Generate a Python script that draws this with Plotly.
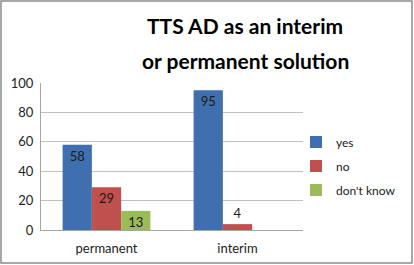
import plotly.graph_objects as go

categories = ["permanent", "interim"]
series_names = ["yes", "no", "don't know"]
yes_vals = [58, 95]
no_vals = [29, 4]
dk_vals = [13, None]
colors = ["#3F6FAE", "#C0504D", "#9BBB59"]

W, H = 414, 265
L, R, T, B = 41, 111, 83, 35

fig = go.Figure()
for name, vals, col in zip(series_names, [yes_vals, no_vals, dk_vals], colors):
    fig.add_trace(go.Bar(
        x=categories, y=vals, name=name, legendgroup=name,
        marker=dict(color=col, line=dict(width=0)),
        text=[("" if v is None else str(v)) for v in vals],
        textposition=[("outside" if (v is not None and v < 8) else "inside") for v in vals],
        insidetextanchor="end", textangle=0,
        textfont=dict(family="Lato", size=13, color="#1a1a1a"),
        constraintext="none", cliponaxis=False,
    ))

fig.update_layout(
    width=W, height=H,
    margin=dict(l=L, r=R, t=T, b=B, autoexpand=False),
    paper_bgcolor="white", plot_bgcolor="white",
    barmode="group", bargap=0.33, bargroupgap=0.0,
    font=dict(family="Lato", size=12, color="#222"),
    showlegend=True,
    legend=dict(xref="container", yref="container", x=296 / W, y=(H - 166) / H,
                xanchor="left", yanchor="middle", traceorder="grouped",
                font=dict(size=12, color="#222"), tracegroupgap=5,
                itemwidth=30, bgcolor="rgba(0,0,0,0)"),
    uniformtext=dict(minsize=8, mode="show"),
)
fig.update_yaxes(range=[0, 100], dtick=20, showgrid=True, gridcolor="#BFBFBF",
                 gridwidth=1, showline=True, linecolor="#A6A6A6", linewidth=1,
                 ticks="", ticklabelstandoff=4,
                 tickfont=dict(size=13, color="#222"), zeroline=False)
fig.update_xaxes(showline=True, linecolor="#A6A6A6", linewidth=1, ticks="",
                 ticklabelstandoff=6, tickfont=dict(size=13, color="#222"))

for line, yc in [("<b>TTS AD as an interim</b>", 25), ("<b>or permanent solution</b>", 60)]:
    fig.add_annotation(text=line, xref="paper", yref="paper",
                       x=(245 - L) / (W - L - R), y=1 + (T - yc) / (H - T - B),
                       showarrow=False, font=dict(family="Lato", size=21, color="#000"),
                       xanchor="center", yanchor="middle")

# outer border
pw, ph = W - L - R, H - T - B
fig.add_shape(type="rect", xref="paper", yref="paper",
              x0=(1 - L) / pw, x1=(412 - L) / pw,
              y0=(H - 263 - B) / ph, y1=(H - 1 - B) / ph,
              line=dict(color="#8C8C8C", width=1.5), fillcolor="rgba(0,0,0,0)")

fig.write_html("out.html")
